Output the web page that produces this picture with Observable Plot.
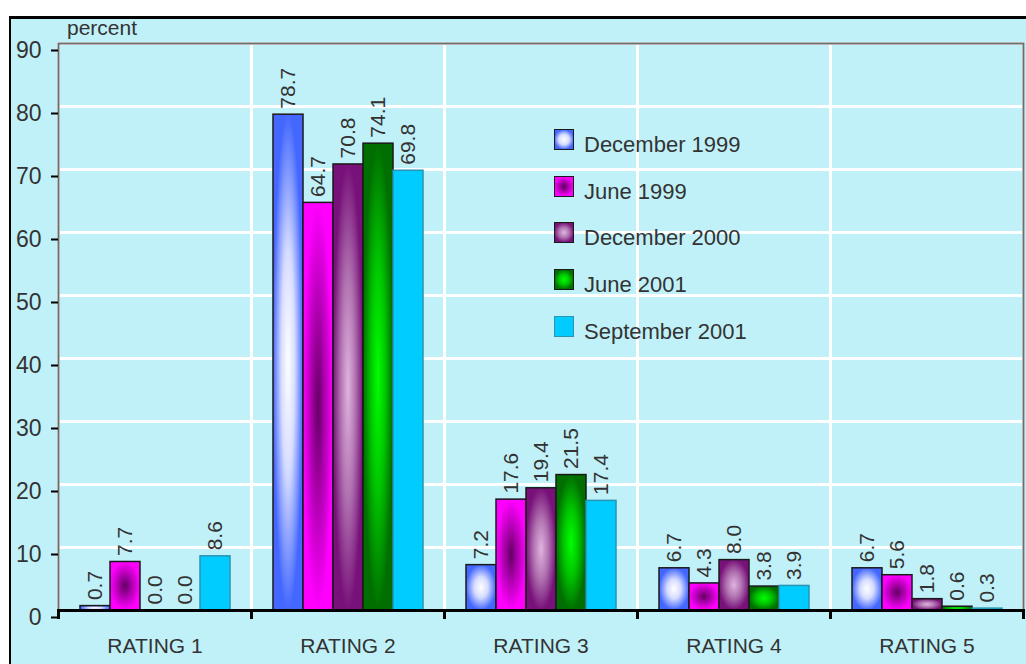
<!DOCTYPE html>
<html>
<head>
<meta charset="utf-8">
<script src="https://cdn.jsdelivr.net/npm/d3@7"></script>
<script src="https://cdn.jsdelivr.net/npm/@observablehq/plot@0.6"></script>
<style>
  body { margin: 0; background: #fff; font-family: "Liberation Sans", Arial, sans-serif; }
  #wrap { position: relative; width: 1026px; height: 664px; overflow: hidden; }
  #bg { position: absolute; left: 9px; top: 16px; right: 0; bottom: 0; background: #c1f1f8;
        border-left: 2px solid #000; border-top: 3px solid #000; }
  #chart { position: absolute; left: 0; top: 0; }
  #percent { position: absolute; left: 67px; top: 17px; font-size: 21px; line-height: 21px; color: #333; }
  #legend { position: absolute; left: 554px; top: 129px; }
  .row { position: relative; height: 46.7px; width: 220px; }
  .sw { position: absolute; left: 0; top: 0; width: 20px; height: 21px; box-sizing: border-box; }
  .lt { position: absolute; left: 30px; top: 5px; font-size: 22px; line-height: 22px; color: #333; white-space: nowrap; }
  svg [aria-label="y-axis tick"] { stroke: #666; }
</style>
</head>
<body>
<div id="wrap">
  <div id="bg"></div>
  <div id="chart"></div>
  <div id="percent">percent</div>
  <div id="legend"></div>
</div>
<script>
// ---- data ----
const ratings = ["RATING 1", "RATING 2", "RATING 3", "RATING 4", "RATING 5"];
const series = ["December 1999", "June 1999", "December 2000", "June 2001", "September 2001"];
const dec1999 = [0.7, 78.7, 7.2, 6.7, 6.7];
const jun1999 = [7.7, 64.7, 17.6, 4.3, 5.6];
const dec2000 = [0.0, 70.8, 19.4, 8.0, 1.8];
const jun2001 = [0.0, 74.1, 21.5, 3.8, 0.6];
const sep2001 = [8.6, 69.8, 17.4, 3.9, 0.3];
const yTicks = [0, 10, 20, 30, 40, 50, 60, 70, 80, 90];

const seriesValues = [dec1999, jun1999, dec2000, jun2001, sep2001];
const rows = ratings.flatMap((r, i) =>
  series.map((s, j) => ({rating: r, series: s, value: seriesValues[j][i]})));

// ---- styles ----
const grads = [
  {id: "g0", stops: [[0, "#ffffff"], [0.45, "#d6dcff"], [1, "#4468ff"]]},
  {id: "g1", stops: [[0, "#640064"], [0.5, "#b400b4"], [1, "#ff00ff"]]},
  {id: "g2", stops: [[0, "#e0b4e0"], [0.5, "#b072b0"], [1, "#78127a"]]},
  {id: "g3", stops: [[0, "#00ff00"], [0.5, "#00c400"], [1, "#006e00"]]}
];
const fills = ["url(#g0)", "url(#g1)", "url(#g2)", "url(#g3)", "#00ccff"];
const strokes = ["#1a1a1a", "#1a1a1a", "#1a1a1a", "#1a1a1a", "#2a94b4"];
const cssFills = [
  "radial-gradient(circle, #ffffff 0%, #d6dcff 40%, #4468ff 75%)",
  "radial-gradient(circle, #640064 0%, #b400b4 40%, #ff00ff 75%)",
  "radial-gradient(circle, #e0b4e0 0%, #b072b0 40%, #78127a 75%)",
  "radial-gradient(circle, #00ff00 0%, #00c400 40%, #006e00 75%)",
  "#00ccff"
];
const fillOf = s => fills[series.indexOf(s)];
const strokeOf = s => strokes[series.indexOf(s)];
const txt = "#333";

const chart = Plot.plot({
  width: 1026,
  height: 664,
  marginLeft: 56,
  marginRight: 2,
  marginTop: 43,
  marginBottom: 54,
  style: {background: "transparent", fontFamily: "'Liberation Sans', Arial, sans-serif", overflow: "visible"},
  fx: {domain: ratings, padding: 0, label: null},
  x: {domain: series, paddingInner: 0, paddingOuter: 0.68, axis: null},
  y: {domain: [0, 90], label: null},
  color: {type: "identity"},
  marks: [
    Plot.frame({stroke: "white", strokeWidth: 3}),
    Plot.ruleY(yTicks.filter(t => t > 0 && t < 90), {stroke: "white", strokeWidth: 3}),
    Plot.frame({facet: "super", stroke: "#6e6e6e", strokeWidth: 2}),
    Plot.barY(rows, {fx: "rating", x: "series", y: "value",
      fill: d => fillOf(d.series), stroke: d => strokeOf(d.series), strokeWidth: 1.5}),
    Plot.text(rows, {fx: "rating", x: "series", y: "value",
      text: d => d.value.toFixed(1), rotate: -90, textAnchor: "start", dy: -6,
      fontSize: 21, fill: txt}),
    Plot.ruleY([0], {stroke: "#000", strokeWidth: 3}),
    Plot.frame({anchor: "left", stroke: "#000", strokeWidth: 3, insetTop: 567, insetBottom: -7}),
    Plot.frame({facet: "super", anchor: "right", stroke: "#000", strokeWidth: 3, insetTop: 567, insetBottom: -7}),
    Plot.axisY({ticks: yTicks, tickSize: 7, tickPadding: 10, fontSize: 23, label: null,
      strokeWidth: 2, fill: txt, dy: 7}),
    Plot.axisFx({anchor: "bottom", tickSize: 0, tickPadding: 28, fontSize: 21, label: null, fill: txt})
  ]
});

// gradient definitions
const ns = "http://www.w3.org/2000/svg";
const defs = document.createElementNS(ns, "defs");
for (const g of grads) {
  const rg = document.createElementNS(ns, "radialGradient");
  rg.setAttribute("id", g.id);
  rg.setAttribute("cx", "0.5"); rg.setAttribute("cy", "0.5"); rg.setAttribute("r", "0.5");
  for (const [o, c] of g.stops) {
    const st = document.createElementNS(ns, "stop");
    st.setAttribute("offset", o);
    st.setAttribute("stop-color", c);
    rg.appendChild(st);
  }
  defs.appendChild(rg);
}
chart.insertBefore(defs, chart.firstChild);
document.getElementById("chart").appendChild(chart);

// legend
const legend = document.getElementById("legend");
series.forEach((s, j) => {
  const row = document.createElement("div");
  row.className = "row";
  const sw = document.createElement("div");
  sw.className = "sw";
  sw.style.background = cssFills[j];
  sw.style.border = `1.5px solid ${strokes[j]}`;
  const lt = document.createElement("div");
  lt.className = "lt";
  lt.textContent = s;
  row.appendChild(sw);
  row.appendChild(lt);
  legend.appendChild(row);
});
</script>
</body>
</html>
